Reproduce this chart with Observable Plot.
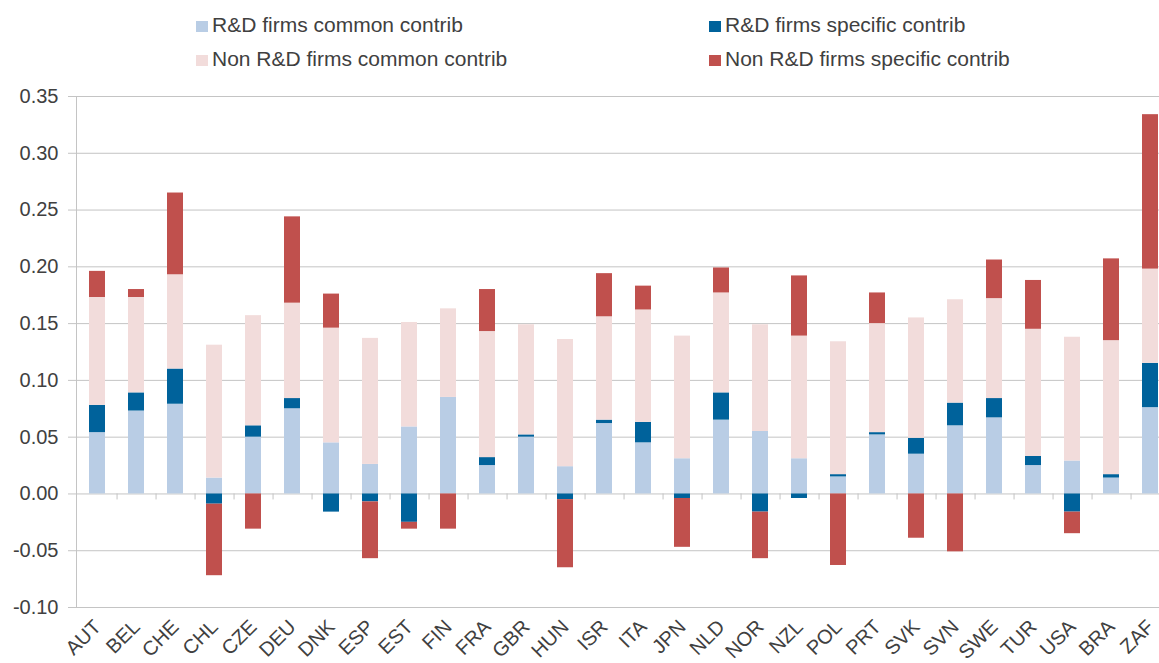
<!DOCTYPE html>
<html><head><meta charset="utf-8">
<script src="https://cdn.jsdelivr.net/npm/d3@7"></script>
<script src="https://cdn.jsdelivr.net/npm/@observablehq/plot@0.6"></script>
<style>
html,body{margin:0;padding:0;background:#fff;overflow:hidden;width:1159px;height:663px}
#legend{position:relative;height:78px;font-family:"Liberation Sans",Arial,sans-serif;font-size:21px;color:#404040}
.item{position:absolute;display:flex;align-items:center;white-space:nowrap;height:24px}
.sw{width:12px;height:11px;margin-right:4px;margin-top:2px}
#chart svg{display:block;overflow:hidden}
</style></head><body>
<div id="legend"></div>
<div id="chart"></div>
<script>
const countries = ["AUT","BEL","CHE","CHL","CZE","DEU","DNK","ESP","EST","FIN","FRA","GBR","HUN","ISR","ITA","JPN","NLD","NOR","NZL","POL","PRT","SVK","SVN","SWE","TUR","USA","BRA","ZAF"];
const rdCommon    = [0.054,0.073,0.079,0.014,0.050,0.075,0.045,0.026,0.059,0.085,0.025,0.050,0.024,0.062,0.045,0.031,0.065,0.055,0.031,0.015,0.052,0.035,0.060,0.067,0.025,0.029,0.014,0.076];
const rdSpecific  = [0.024,0.016,0.031,-0.009,0.010,0.009,-0.016,-0.007,-0.025,0.000,0.007,0.002,-0.005,0.003,0.018,-0.004,0.024,-0.016,-0.004,0.002,0.002,0.014,0.020,0.017,0.008,-0.016,0.003,0.039];
const nonCommon   = [0.095,0.084,0.083,0.117,0.097,0.084,0.101,0.111,0.092,0.078,0.111,0.097,0.112,0.091,0.099,0.108,0.088,0.094,0.108,0.117,0.096,0.106,0.091,0.088,0.112,0.109,0.118,0.083];
const nonSpecific = [0.023,0.007,0.072,-0.063,-0.031,0.076,0.030,-0.050,-0.006,-0.031,0.037,0.000,-0.060,0.038,0.021,-0.043,0.022,-0.041,0.053,-0.063,0.027,-0.039,-0.051,0.034,0.043,-0.019,0.072,0.136];
const seriesNames = ["R&D firms common contrib","R&D firms specific contrib","Non R&D firms common contrib","Non R&D firms specific contrib"];
const seriesColors = ["#b9cde5","#00629b","#f2dcdb","#c0504d"];
const yTicks = [-0.10,-0.05,0.00,0.05,0.10,0.15,0.20,0.25,0.30,0.35];

const seriesValues = [rdCommon, rdSpecific, nonCommon, nonSpecific];
const rows = [];
countries.forEach((c, i) => seriesNames.forEach((s, k) => rows.push({country: c, series: s, value: seriesValues[k][i]})));

// legend
const legendPos = [[196,13],[709,13],[196,47],[709,47]];
const legend = document.getElementById("legend");
seriesNames.forEach((s, k) => {
  const it = document.createElement("div");
  it.className = "item";
  it.style.left = legendPos[k][0] + "px";
  it.style.top = legendPos[k][1] + "px";
  const sw = document.createElement("span");
  sw.className = "sw";
  sw.style.background = seriesColors[k];
  const tx = document.createElement("span");
  tx.textContent = s;
  it.appendChild(sw); it.appendChild(tx);
  legend.appendChild(it);
});

// the plot area runs past the right edge of the picture, as in the reference
const W = 1159, ML = 76, MR = -12;
const step = (W - ML - MR) / countries.length;
const gridColor = "#c4c4c4";

const chart = Plot.plot({
  width: W, height: 585,
  marginLeft: ML, marginRight: MR, marginTop: 18, marginBottom: 56,
  style: {fontFamily: "'Liberation Sans', Arial, sans-serif", fontSize: "20px", color: "#404040", background: "white"},
  x: {domain: countries, paddingInner: 0.6, paddingOuter: 0.3, label: null},
  y: {domain: [-0.10, 0.35], label: null},
  color: {domain: seriesNames, range: seriesColors},
  marks: [
    Plot.ruleY(yTicks, {y: d => d, stroke: gridColor, insetLeft: -8}),
    Plot.frame({anchor: "left", stroke: gridColor}),
    Plot.ruleX(countries, {x: d => d, y1: 0, y2: -0.0053, dx: step / 2, stroke: gridColor}),
    Plot.barY(rows, {x: "country", y: "value", fill: "series"}),
    Plot.axisY({ticks: yTicks, tickSize: 0, tickPadding: 18, tickFormat: d => d.toFixed(2), fontSize: 20, fill: "#404040"}),
    Plot.axisX({tickSize: 0, tickRotate: -45, tickPadding: 16, fontSize: 20, fill: "#404040"})
  ]
});
document.getElementById("chart").appendChild(chart);
</script>
</body></html>
